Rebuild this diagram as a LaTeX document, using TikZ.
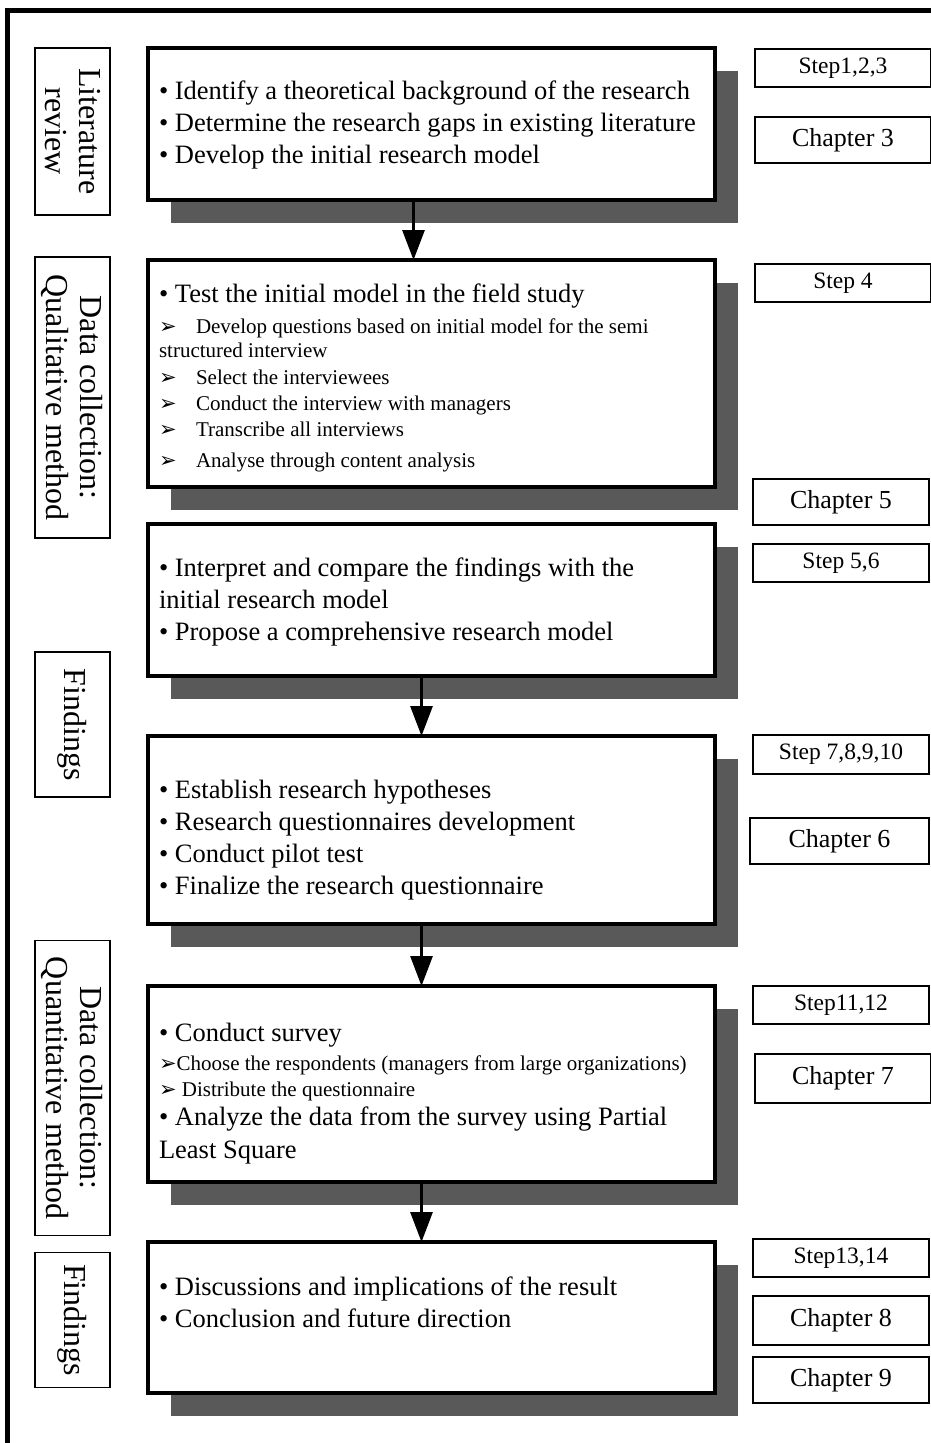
\documentclass[tikz,border=0pt]{standalone}
\usepackage{fontspec}
\setmainfont{Liberation Serif}
\newfontfamily\dingfont{DejaVu Sans}
\usepackage{tikz}
\usetikzlibrary{positioning, arrows.meta, shadows}

\definecolor{shadowgray}{RGB}{89,89,89}
\newcommand{\mainsize}{\fontsize{26.5}{32}\selectfont}
\newcommand{\itemsize}{\fontsize{21}{26}\selectfont}
\newcommand{\sidesize}{\fontsize{32}{34}\selectfont}
\newcommand{\stepsize}{\fontsize{23.5}{28}\selectfont}
\newcommand{\chapsize}{\fontsize{26}{30}\selectfont}
\newcommand{\tabarrow}{\makebox[37pt][l]{\dingfont ➢}}
\newcommand{\lowpad}[1]{\rule[-#1]{0pt}{0pt}}
\newcommand{\toppad}[1]{\rule{0pt}{#1}}

\begin{document}
\begin{tikzpicture}[
  x=1pt, y=-1pt,
  mainbox/.style={draw, line width=4pt, fill=white, outer sep=0pt, minimum width=567pt, text width=545pt, inner xsep=11pt, align=flush left, font=\mainsize,
    drop shadow={shadow xshift=23pt, shadow yshift=-23pt, fill=shadowgray, opacity=1}},
  sidebox/.style={draw, line width=1.8pt, outer sep=0pt, rotate=-90, minimum height=75pt, inner sep=2pt, align=center, font=\sidesize},
  stepbox/.style={draw, line width=1.8pt, outer sep=0pt, anchor=north west, minimum width=176pt, minimum height=38pt, font=\stepsize},
  chapbox/.style={stepbox, minimum height=46pt, font=\chapsize},
  arrow/.style={-{Triangle[length=30pt, width=22pt]}, line width=3pt}
]
  \useasboundingbox (0,0) rectangle (930,1443);
  \node[draw, line width=5pt, outer sep=0pt, anchor=north west, minimum width=960pt, minimum height=1480pt] (frame) at (7.5,10.5) {};

  % stages
  \node[mainbox, anchor=north west, minimum height=152pt] (lit) at (148,48) {%
    \toppad{20pt}• Identify a theoretical background of the research\\
    • Determine the research gaps in existing literature\\
    • Develop the initial research model};
  \node[mainbox, minimum height=227pt, below=60pt of lit, font=\itemsize] (qual) {%
    {\mainsize\toppad{28pt}• Test the initial model in the field study}\\[5pt]
    \tabarrow Develop questions based on initial model for the semi\\[-2pt]
    structured interview\\[1pt]
    \tabarrow Select the interviewees\\
    \tabarrow Conduct the interview with managers\\
    \tabarrow Transcribe all interviews\\[5pt]
    \tabarrow Analyse through content analysis};
  \node[mainbox, minimum height=152pt, below=37pt of qual] (interp) {%
    \toppad{23pt}• Interpret and compare the findings with the\\
    initial research model\\
    • Propose a comprehensive research model};
  \node[mainbox, minimum height=188pt, below=60pt of interp] (hypo) {%
    \toppad{38pt}• Establish research hypotheses\\
    • Research questionnaires development\\
    • Conduct pilot test\\
    • Finalize the research questionnaire};
  \node[mainbox, minimum height=196pt, below=62pt of hypo, font=\itemsize] (survey) {%
    {\mainsize\toppad{38pt}• Conduct survey}\\[3pt]
    {\dingfont ➢}Choose the respondents (managers from large organizations)\\
    {\dingfont ➢} Distribute the questionnaire\\[3pt]
    {\mainsize • Analyze the data from the survey using Partial}\\[7pt]
    {\mainsize Least Square}};
  \node[mainbox, minimum height=151pt, below=60pt of survey] (disc) {%
    • Discussions and implications of the result\\
    • Conclusion and future direction\lowpad{30pt}};

  % phases
  \node[sidebox, minimum width=167pt] (litlabel) at (72.5,131.5) {Literature\\review};
  \node[sidebox, minimum width=281pt] (quallabel) at (72.5,397.5) {Data collection:\\Qualitative method};
  \node[sidebox, minimum width=145pt] (find1) at (72.5,724.5) {Findings};
  \node[sidebox, minimum width=295pt] (quantlabel) at (72.5,1088) {Data collection:\\Quantitative method};
  \node[sidebox, minimum width=135pt] (find2) at (72.5,1320) {Findings};

  % steps and chapters
  \node[stepbox] (s1) at (755,49) {Step1,2,3};
  \node[chapbox] (c3) at (755,117) {Chapter 3};
  \node[stepbox] (s4) at (755,264) {Step 4};
  \node[chapbox] (c5) at (753,479) {Chapter 5};
  \node[stepbox] (s5) at (753,544) {Step 5,6};
  \node[stepbox, minimum height=39pt] (s7) at (753,735) {Step 7,8,9,10};
  \node[chapbox, minimum width=179pt] (c6) at (750,818) {Chapter 6};
  \node[stepbox] (s11) at (753,986) {Step11,12};
  \node[chapbox, minimum height=49pt] (c7) at (755,1054) {Chapter 7};
  \node[stepbox] (s13) at (753,1239) {Step13,14};
  \node[chapbox, minimum height=49pt] (c8) at (753,1296) {Chapter 8};
  \node[chapbox] (c9) at (753,1357) {Chapter 9};

  \draw[arrow] ([xshift=-18pt]lit.south) -- ([xshift=-18pt]qual.north);
  \draw[arrow] ([xshift=-10pt]interp.south) -- ([xshift=-10pt]hypo.north);
  \draw[arrow] ([xshift=-10pt]hypo.south) -- ([xshift=-10pt]survey.north);
  \draw[arrow] ([xshift=-10pt]survey.south) -- ([xshift=-10pt]disc.north);
\end{tikzpicture}
\end{document}
